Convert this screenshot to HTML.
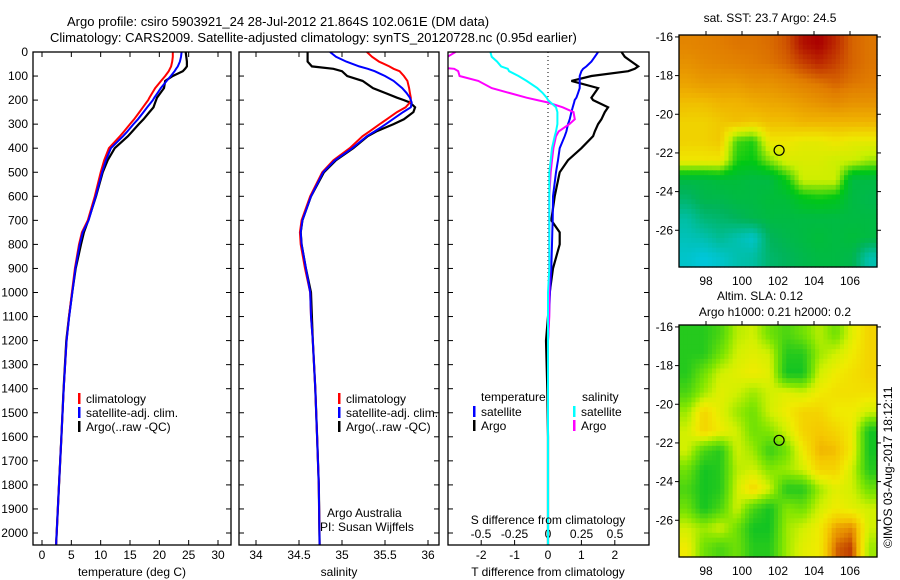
<!DOCTYPE html>
<html><head><meta charset="utf-8">
<style>
html,body{margin:0;padding:0;background:#fff;}
svg{display:block;font-family:"Liberation Sans",sans-serif;}
text{font-size:12px;fill:#000;}
</style></head>
<body>
<svg id="chart" width="900" height="580" viewBox="0 0 900 580">
<rect width="900" height="580" fill="#fff"/>
<text x="67" y="26" style="font-size:13px">Argo profile: csiro 5903921_24 28-Jul-2012 21.864S 102.061E (DM data)</text>
<text x="50" y="42" style="font-size:13px">Climatology: CARS2009. Satellite-adjusted climatology: synTS_20120728.nc (0.95d earlier)</text>
<text x="770" y="22" text-anchor="middle">sat. SST: 23.7 Argo: 24.5</text>
<text x="760" y="300" text-anchor="middle">Altim. SLA: 0.12</text>
<text x="775" y="316" text-anchor="middle">Argo h1000: 0.21 h2000: 0.2</text>
<text transform="translate(892,548) rotate(-90)">©IMOS 03-Aug-2017 18:12:11</text>
<g id="plots"></g>
</svg>
<script>
// ---------- profile data ----------
const depths=[0,20,40,60,70,80,100,120,150,170,190,200,210,230,250,280,300,330,350,400,450,500,600,700,750,800,900,1000,1100,1200,1400,1600,1800,2050];
const tempClim=[22.3,22.3,22.2,22.0,21.8,21.6,21.0,20.3,19.3,18.8,18.3,18.1,17.8,17.2,16.6,15.7,15.0,14.0,13.3,11.4,10.6,10.0,9.0,7.8,6.8,6.3,5.6,5.1,4.6,4.2,3.7,3.3,2.9,2.4];
const tempSat=[23.8,23.7,23.5,23.15,22.85,22.6,21.95,21.25,20.25,19.7,19.15,18.9,18.58,17.94,17.3,16.35,15.6,14.55,13.8,11.75,10.9,10.24,9.15,7.94,6.93,6.42,5.7,5.16,4.63,4.2,3.7,3.3,2.9,2.4];
const tempArgo=[24.5,24.6,24.7,24.7,24.4,24.0,22.3,21.0,20.8,20.2,19.6,19.45,19.3,19.0,18.3,17.3,16.5,15.4,14.65,12.4,11.2,10.35,9.2,7.9,7.15,6.65,5.75,5.15,4.6,4.14,3.68,3.3,2.9,2.4];
const salClim=[35.29,35.35,35.43,35.55,35.6,35.67,35.72,35.76,35.78,35.79,35.8,35.8,35.79,35.74,35.64,35.52,35.44,35.32,35.24,35.09,34.9,34.77,34.63,34.53,34.51,34.52,34.57,34.63,34.64,34.66,34.69,34.71,34.73,34.74];
const salSat=[34.86,34.93,35.05,35.2,35.3,35.38,35.5,35.6,35.7,35.75,35.79,35.8,35.81,35.8,35.71,35.59,35.51,35.38,35.29,35.12,34.92,34.78,34.64,34.54,34.52,34.53,34.58,34.63,34.64,34.66,34.69,34.71,34.73,34.74];
const salArgo=[34.6,34.6,34.6,34.65,34.9,35.0,35.06,35.24,35.36,35.5,35.64,35.72,35.79,35.85,35.83,35.72,35.6,35.4,35.3,35.13,34.93,34.79,34.64,34.54,34.52,34.53,34.58,34.64,34.65,34.66,34.69,34.71,34.73,34.74];
const depthTicks=[0,100,200,300,400,500,600,700,800,900,1000,1100,1200,1300,1400,1500,1600,1700,1800,1900,2000];
const tempTicks=[0,5,10,15,20,25,30];
const salTicks=[34,34.5,35,35.5,36];
const tdiffTicks=[-2,-1,0,1,2];
const sdiffTicks=[-0.5,-0.25,0,0.25,0.5];
const lonTicks=[98,100,102,104,106];
const latTicks=[-16,-18,-20,-22,-24,-26];
// SST map field (0..1 colour index), rows lat -16..-27, cols lon 97..107
const sstField=[
[.83,.84,.85,.86,.86,.87,.90,.98,1.0,.95,.88,.86],
[.80,.82,.83,.84,.85,.86,.88,.92,.95,.92,.88,.86],
[.76,.78,.78,.78,.80,.80,.82,.84,.86,.88,.86,.85],
[.70,.70,.72,.72,.74,.75,.76,.78,.80,.82,.80,.80],
[.66,.66,.68,.70,.68,.70,.70,.72,.72,.72,.72,.72],
[.66,.66,.68,.45,.42,.62,.62,.60,.60,.62,.60,.60],
[.62,.62,.62,.42,.40,.50,.58,.58,.58,.56,.56,.52],
[.30,.30,.32,.32,.30,.30,.40,.56,.56,.56,.30,.30],
[.22,.28,.28,.30,.30,.32,.32,.38,.40,.38,.30,.28],
[.12,.20,.22,.25,.28,.30,.30,.30,.30,.30,.30,.30],
[.08,.10,.15,.10,.05,.25,.28,.30,.32,.30,.32,.30],
[.05,.02,.05,.10,.12,.22,.25,.28,.30,.30,.28,.10]];
const slaField=[
[.1,.1,.2,.45,.5,.3,.2,.3,.45,.3,.55,.7],
[.1,.1,.3,.5,.55,.5,.1,.1,.4,.5,.6,.7],
[.1,.3,.5,.55,.6,.55,.05,.05,.5,.6,.65,.7],
[.2,.4,.55,.5,.4,.5,.55,.5,.6,.65,.65,.65],
[.4,.7,.55,.4,.3,.5,.6,.7,.7,.6,.6,.5],
[.5,.7,.6,.5,.3,.35,.5,.7,.75,.7,.6,.05],
[.5,.2,.1,.5,.4,.15,.3,.6,.8,.78,.6,.05],
[.3,.05,.1,.45,.5,.35,.4,.5,.7,.7,.5,.1],
[.2,.05,.1,.5,.7,.5,.1,.1,.4,.55,.5,.3],
[.3,.05,.2,.5,.2,.05,.35,.3,.5,.6,.55,.5],
[.5,.4,.5,.3,.05,.05,.4,.5,.6,.85,.9,.5],
[.6,.3,.2,.3,.1,.1,.4,.55,.6,.95,1.0,.4]];
const argoLon=102.061, argoLat=-21.864;

const NS='http://www.w3.org/2000/svg';
const root=document.getElementById('plots');
function el(tag,attrs,parent,txt){const e=document.createElementNS(NS,tag);for(const k in attrs)e.setAttribute(k,attrs[k]);if(txt!==undefined)e.textContent=txt;(parent||root).appendChild(e);return e;}
const top0=52, bot=545;
const yD=d=>top0+d*0.2405;
function lin(d0,d1,r0,r1){return v=>r0+(v-d0)/(d1-d0)*(r1-r0);}

function frame(x0,x1,y0,y1,name){
  const r=el('rect',{x:x0,y:y0,width:x1-x0,height:y1-y0,fill:'none',stroke:'#000','stroke-width':1.3});
  
  
}
function depthAxis(x0,x1,labels){
  const g=el('g',{});
  
  
  depthTicks.forEach(d=>{const y=yD(d);
    el('line',{x1:x0,x2:x0+5,y1:y,y2:y,stroke:'#000'},g);
    el('line',{x1:x1-5,x2:x1,y1:y,y2:y,stroke:'#000'},g);
    if(labels){const t=el('text',{x:x0-5,y:y+4,'text-anchor':'end'},g,String(d));}
  });
}
function xAxis(ticks,sx,fmt,labelY,ticksTop){
  const g=el('g',{});
  
  
  ticks.forEach(v=>{const x=sx(v);
    el('line',{x1:x,x2:x,y1:bot,y2:bot-5,stroke:'#000'},g);
    if(ticksTop)el('line',{x1:x,x2:x,y1:top0,y2:top0+5,stroke:'#000'},g);
    const t=el('text',{x:x,y:labelY,'text-anchor':'middle'},g,fmt(v));
    
    
  });
}
function series(xs,sx,color,name,w,clip){
  const pts=xs.map((v,i)=>sx(v).toFixed(1)+','+yD(depths[i]).toFixed(1)).join(' ');
  const p=el('polyline',{points:pts,fill:'none',stroke:color,'stroke-width':w||2,'clip-path':clip?'url(#'+clip+')':''});
  
  
}
function legend(x,y,color,label,name){
  const g=el('g',{});
  
  
  el('rect',{x:x,y:y-9,width:2.5,height:11,fill:color},g);
  el('text',{x:x+8,y:y+1},g,label);
}
const defs=el('defs',{});
function clipRect(id,x0,x1){const c=el('clipPath',{id:id},defs);el('rect',{x:x0,y:top0,width:x1-x0,height:bot-top0},c);}

// Panel 1: temperature
const P1={x0:33,x1:231};
const sxT=lin(0,30,42,218);
clipRect('c1',P1.x0,P1.x1);
depthAxis(P1.x0,P1.x1,true);
xAxis(tempTicks,sxT,v=>String(v),559,true);
series(tempArgo,sxT,'#000','temp-argo-line',2.2,'c1');
series(tempClim,sxT,'#f00','temp-clim-line',2,'c1');
series(tempSat,sxT,'#00f','temp-sat-line',2,'c1');
frame(P1.x0,P1.x1,top0,bot,'temperature-panel');
el('text',{x:132,y:576,'text-anchor':'middle'},root,'temperature (deg C)');
legend(78,402,'#f00','climatology','legend-climatology');
legend(78,416,'#00f','satellite-adj. clim.','legend-satellite');
legend(78,430,'#000','Argo(..raw -QC)','legend-argo');

// Panel 2: salinity
const P2={x0:239,x1:439};
const sxS=lin(34,36,256,428);
clipRect('c2',P2.x0,P2.x1);
depthAxis(P2.x0,P2.x1,false);
xAxis(salTicks,sxS,v=>String(v),559,true);
series(salArgo,sxS,'#000','sal-argo-line',2.2,'c2');
series(salClim,sxS,'#f00','sal-clim-line',2,'c2');
series(salSat,sxS,'#00f','sal-sat-line',2,'c2');
frame(P2.x0,P2.x1,top0,bot,'salinity-panel');
el('text',{x:339,y:576,'text-anchor':'middle'},root,'salinity');
legend(338,402,'#f00','climatology','legend-climatology-2');
legend(338,416,'#00f','satellite-adj. clim.','legend-satellite-2');
legend(338,430,'#000','Argo(..raw -QC)','legend-argo-2');
el('text',{x:327,y:517},root,'Argo Australia');
el('text',{x:320,y:531},root,'PI: Susan Wijffels');

// Panel 3: differences
const P3={x0:448,x1:649};
const sxTD=lin(0,1,548,581.4);
const sxSD=lin(0,1,548,682);
clipRect('c3',P3.x0,P3.x1);
depthAxis(P3.x0,P3.x1,false);
xAxis(tdiffTicks,sxTD,v=>String(v),559,false);
const g3=el('g',{});
sdiffTicks.forEach(v=>{const t=el('text',{x:sxSD(v),y:538,'text-anchor':'middle'},g3,String(v));});
el('line',{x1:548,x2:548,y1:top0,y2:bot,stroke:'#000','stroke-dasharray':'1,3'});
series(tempArgo.map((v,i)=>v-tempClim[i]),sxTD,'#000','tdiff-argo-line',2.2,'c3');
series(tempSat.map((v,i)=>v-tempClim[i]),sxTD,'#00f','tdiff-sat-line',2,'c3');
series(salArgo.map((v,i)=>v-salClim[i]),sxSD,'#f0f','sdiff-argo-line',2,'c3');
series(salSat.map((v,i)=>v-salClim[i]),sxSD,'#0ff','sdiff-sat-line',2,'c3');
frame(P3.x0,P3.x1,top0,bot,'difference-panel');
el('text',{x:548,y:524,'text-anchor':'middle'},root,'S difference from climatology');
el('text',{x:548,y:576,'text-anchor':'middle'},root,'T difference from climatology');
el('text',{x:481,y:401},root,'temperature');
el('text',{x:582,y:401},root,'salinity');
legend(473,415,'#00f','satellite','legend-t-satellite');
legend(473,429,'#000','Argo','legend-t-argo');
legend(573,415,'#0ff','satellite','legend-s-satellite');
legend(573,429,'#f0f','Argo','legend-s-argo');

// Maps
function ramp(stops,v){v=Math.max(0,Math.min(1,v));for(let i=1;i<stops.length;i++){if(v<=stops[i][0]){const a=stops[i-1],b=stops[i],f=(v-a[0])/(b[0]-a[0]);return 'rgb('+[1,2,3].map(k=>Math.round(a[k]+(b[k]-a[k])*f)).join(',')+')';}}const l=stops[stops.length-1];return 'rgb('+l[1]+','+l[2]+','+l[3]+')';}
const sstStops=[[0,0,200,230],[.25,0,180,90],[.4,0,200,20],[.55,200,240,0],[.62,240,230,0],[.72,240,180,0],[.85,225,125,0],[1,170,0,0]];
const slaStops=[[0,0,190,40],[.35,130,230,0],[.5,210,240,0],[.6,240,235,0],[.75,245,200,0],[.9,230,140,0],[1,190,60,0]];
function sample(field,fr,fc){
  const R=field.length,C=field[0].length;
  fr=Math.max(0,Math.min(R-1,fr));fc=Math.max(0,Math.min(C-1,fc));
  const r0=Math.floor(fr),c0=Math.floor(fc),r1=Math.min(R-1,r0+1),c1=Math.min(C-1,c0+1);
  const a=fr-r0,b=fc-c0;
  return field[r0][c0]*(1-a)*(1-b)+field[r0][c1]*(1-a)*b+field[r1][c0]*a*(1-b)+field[r1][c1]*a*b;
}
function drawMap(field,stops,y0,y1,name,sub){
  const x0=679,x1=877;
  const sx=lin(96.5,107.5,x0,x1), sy=lin(-15.9,-27.9,y0,y1);
  const R=field.length,C=field[0].length;
  const g=el('g',{});
  
  
  const NR=R*sub,NC=C*sub,cw=(x1-x0)/NC,ch=(y1-y0)/NR;
  for(let i=0;i<NR;i++)for(let j=0;j<NC;j++){
    const v=sample(field,(i+0.5)/sub-0.5,(j+0.5)/sub-0.5);
    const cell=el('rect',{x:(x0+j*cw).toFixed(2),y:(y0+i*ch).toFixed(2),width:(cw+0.6).toFixed(2),height:(ch+0.6).toFixed(2),fill:ramp(stops,v)},g);
    
    
  }
  el('rect',{x:x0,y:y0,width:x1-x0,height:y1-y0,fill:'none',stroke:'#000','stroke-width':1.3},g);
  lonTicks.forEach(v=>{const x=sx(v);el('line',{x1:x,x2:x,y1:y0-4,y2:y0,stroke:'#000'},g);el('text',{x:x,y:y1+18,'text-anchor':'middle'},g,String(v));});
  latTicks.forEach(v=>{const y=sy(v);el('line',{x1:x0-4,x2:x0,y1:y,y2:y,stroke:'#000'},g);el('line',{x1:x1,x2:x1+4,y1:y,y2:y,stroke:'#000'},g);el('text',{x:x0-6,y:y+4,'text-anchor':'end'},g,String(v));});
  const m=el('circle',{cx:sx(argoLon),cy:sy(argoLat),r:5,fill:'none',stroke:'#000','stroke-width':1.2},g);
  
  
}
drawMap(sstField,sstStops,35,267,'sst-map',4);
drawMap(slaField,slaStops,325,557,'sla-map',4);
</script>
</body></html>
